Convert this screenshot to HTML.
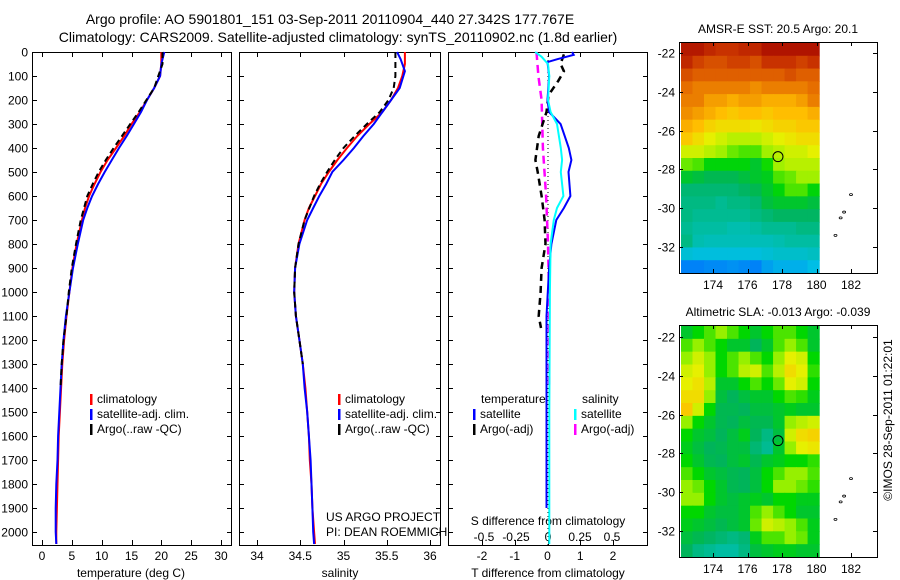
<!DOCTYPE html>
<html><head><meta charset="utf-8">
<style>
body{margin:0;background:#fff;}
svg{display:block;font-family:"Liberation Sans",sans-serif;}
text{font-size:12px;fill:#000;}
</style></head>
<body>
<svg id="fig" width="900" height="580" viewBox="0 0 900 580">
<text x="330" y="24" text-anchor="middle" style="font-size:14px">Argo profile: AO 5901801_151 03-Sep-2011 20110904_440 27.342S 177.767E</text>
<text x="338" y="42" text-anchor="middle" style="font-size:14px">Climatology: CARS2009. Satellite-adjusted climatology: synTS_20110902.nc (1.8d earlier)</text>
<text x="778" y="33" text-anchor="middle">AMSR-E SST: 20.5 Argo: 20.1</text>
<text x="778" y="316" text-anchor="middle">Altimetric SLA: -0.013 Argo: -0.039</text>
<text transform="translate(892,420) rotate(-90)" text-anchor="middle">©IMOS 28-Sep-2011 01:22:01</text>
<text x="326" y="521">US ARGO PROJECT</text>
<text x="326" y="536">PI: DEAN ROEMMICH</text>
</svg>
<script>
// ---------- data ----------
const depthTicks=[0,100,200,300,400,500,600,700,800,900,1000,1100,1200,1300,1400,1500,1600,1700,1800,1900,2000];
const tempTicks=[0,5,10,15,20,25,30];
const salTicks=[34,34.5,35,35.5,36];
const salTickLabels=["34","34.5","35","35.5","36"];
const tdiffTicks=[-2,-1,0,1,2];
const sdiffTicks=[-0.5,-0.25,0,0.25,0.5];
const sdiffTickLabels=["-0.5","-0.25","0","0.25","0.5"];
const latTicks=[-22,-24,-26,-28,-30,-32];
const lonTicks=[174,176,178,180,182];

const tClimDepth=[0,50,100,150,200,250,300,350,400,450,500,550,600,650,700,800,900,1000,1100,1200,1300,1400,1500,1600,1700,1800,1900,2000,2050];
const tClim=[20.0,20.0,19.8,18.8,17.6,16.4,15.0,13.8,12.4,11.0,9.8,8.8,7.9,7.2,6.7,5.8,5.1,4.6,4.1,3.7,3.4,3.2,3.0,2.8,2.7,2.6,2.5,2.4,2.4];
const tSat=[20.5,20.0,19.8,18.8,17.6,16.6,15.4,14.2,12.9,11.7,10.5,9.4,8.4,7.6,6.9,6.0,5.2,4.6,4.0,3.6,3.3,3.1,2.9,2.7,2.6,2.4,2.3,2.3,2.4];
const tArgoDepth=[0,50,100,150,200,250,300,350,400,450,500,550,600,700,800,900,1000,1100,1200,1300,1400];
const tArgo=[20.2,20.2,19.5,18.8,17.5,16.2,14.8,13.4,12.0,10.7,9.5,8.5,7.6,6.5,5.7,5.0,4.5,4.1,3.6,3.3,3.1];

const sClimDepth=[0,50,100,150,200,250,300,350,400,450,500,550,600,650,700,800,900,1000,1100,1200,1300,1400,1500,1600,1700,1800,1900,2000,2050];
const sClim=[35.71,35.71,35.68,35.63,35.55,35.45,35.30,35.16,35.04,34.93,34.83,34.74,34.67,34.60,34.55,34.48,34.44,34.43,34.45,34.49,34.53,34.56,34.58,34.60,34.61,34.63,34.64,34.66,34.67];
const sSatDepth=[0,30,80,150,200,250,300,350,400,450,500,550,600,650,700,800,900,1000,1100,1200,1300,1400,1500,1600,1700,1800,1900,2000,2050];
const sSat=[35.62,35.66,35.71,35.65,35.55,35.45,35.35,35.23,35.12,35.00,34.87,34.80,34.72,34.65,34.58,34.49,34.44,34.43,34.45,34.49,34.53,34.55,34.58,34.60,34.62,34.63,34.64,34.65,34.66];
const sArgoDepth=[0,100,150,200,250,300,350,400,450,500,550,600,700,800,900,1000,1100,1200,1300];
const sArgo=[35.60,35.60,35.58,35.52,35.42,35.27,35.13,35.00,34.90,34.81,34.73,34.66,34.55,34.48,34.44,34.43,34.45,34.49,34.53];

const dTSatDepth=[0,12,30,42,100,200,250,300,400,450,500,600,650,700,800,900,1100,1500,1900];
const dTSat=[0.75,0.8,0.3,0.0,0.05,0.0,0.05,0.4,0.65,0.73,0.64,0.7,0.5,0.27,0.12,0.05,-0.03,-0.03,-0.03];
const dSSatDepth=[0,20,50,100,200,250,300,400,450,500,600,650,700,800,1000,1500,2050];
const dSSat=[-0.1,-0.05,0.0,0.01,0.0,0.02,0.07,0.1,0.11,0.1,0.12,0.07,0.045,0.02,0.015,0.01,0.01];
const dSArgoDepth=[0,100,200,400,600,800,1000,1200,1400];
const dSArgo=[-0.09,-0.075,-0.05,-0.04,-0.015,0.0,0.008,0.008,0.008];
const dTArgoDepth=[10,50,80,120,180,250,350,450,500,600,700,800,900,1000,1100,1150];
const dTArgo=[0.5,0.4,0.5,0.33,0.03,-0.03,-0.27,-0.37,-0.3,-0.18,-0.09,-0.06,-0.18,-0.21,-0.27,-0.2];

const sstGrid=[
[0.95,0.95,0.92,0.9,0.9,0.92,0.92,0.96,0.96,0.96,0.96,0.96],
[0.92,0.88,0.86,0.86,0.88,0.88,0.86,0.9,0.9,0.9,0.88,0.9],
[0.86,0.84,0.84,0.84,0.84,0.84,0.84,0.84,0.84,0.86,0.84,0.84],
[0.82,0.8,0.8,0.8,0.8,0.8,0.78,0.8,0.8,0.8,0.8,0.82],
[0.8,0.8,0.76,0.76,0.74,0.76,0.76,0.74,0.74,0.74,0.76,0.8],
[0.78,0.76,0.74,0.72,0.7,0.72,0.72,0.7,0.72,0.72,0.72,0.74],
[0.74,0.72,0.68,0.66,0.66,0.66,0.64,0.66,0.68,0.68,0.7,0.7],
[0.7,0.66,0.62,0.6,0.58,0.58,0.58,0.6,0.62,0.64,0.66,0.66],
[0.6,0.6,0.58,0.56,0.52,0.5,0.5,0.56,0.58,0.6,0.6,0.62],
[0.52,0.5,0.44,0.44,0.44,0.44,0.4,0.46,0.56,0.58,0.58,0.58],
[0.4,0.38,0.36,0.36,0.36,0.38,0.4,0.42,0.5,0.52,0.56,0.56],
[0.32,0.32,0.32,0.32,0.32,0.34,0.36,0.4,0.44,0.5,0.5,0.44],
[0.3,0.3,0.3,0.28,0.3,0.3,0.32,0.38,0.4,0.4,0.4,0.38],
[0.3,0.28,0.28,0.28,0.28,0.28,0.3,0.32,0.34,0.34,0.34,0.34],
[0.28,0.26,0.26,0.26,0.24,0.24,0.26,0.28,0.28,0.28,0.3,0.3],
[0.3,0.24,0.22,0.22,0.22,0.22,0.22,0.22,0.24,0.26,0.26,0.26],
[0.16,0.14,0.14,0.14,0.14,0.14,0.14,0.16,0.18,0.18,0.18,0.2],
[0.04,0.04,0.05,0.05,0.06,0.05,0.04,0.08,0.1,0.1,0.1,0.12]];
const slaGrid=[
[0.4,0.45,0.5,0.55,0.5,0.45,0.4,0.45,0.5,0.5,0.45,0.4],
[0.5,0.55,0.5,0.45,0.4,0.4,0.35,0.4,0.5,0.55,0.5,0.4],
[0.55,0.6,0.55,0.45,0.5,0.55,0.5,0.45,0.55,0.62,0.6,0.45],
[0.6,0.62,0.55,0.45,0.5,0.58,0.6,0.5,0.58,0.66,0.62,0.48],
[0.62,0.65,0.58,0.4,0.4,0.45,0.5,0.45,0.52,0.62,0.6,0.45],
[0.66,0.66,0.55,0.38,0.35,0.38,0.4,0.4,0.45,0.5,0.48,0.42],
[0.7,0.6,0.45,0.36,0.36,0.35,0.38,0.38,0.4,0.42,0.4,0.4],
[0.55,0.45,0.4,0.36,0.35,0.38,0.36,0.36,0.4,0.55,0.58,0.6],
[0.45,0.4,0.38,0.35,0.38,0.42,0.35,0.3,0.38,0.6,0.66,0.68],
[0.42,0.38,0.35,0.36,0.38,0.38,0.32,0.28,0.4,0.55,0.62,0.64],
[0.45,0.4,0.36,0.35,0.38,0.4,0.36,0.4,0.42,0.45,0.45,0.48],
[0.5,0.45,0.4,0.38,0.36,0.35,0.38,0.45,0.5,0.55,0.55,0.5],
[0.55,0.52,0.45,0.4,0.36,0.35,0.38,0.45,0.55,0.55,0.52,0.48],
[0.55,0.55,0.45,0.4,0.38,0.4,0.42,0.4,0.45,0.45,0.42,0.42],
[0.45,0.45,0.4,0.38,0.38,0.4,0.5,0.55,0.5,0.45,0.4,0.4],
[0.42,0.4,0.38,0.36,0.38,0.4,0.52,0.6,0.58,0.55,0.5,0.42],
[0.38,0.36,0.34,0.32,0.3,0.32,0.42,0.5,0.5,0.55,0.52,0.42],
[0.35,0.3,0.28,0.26,0.26,0.3,0.38,0.4,0.42,0.42,0.4,0.4]];
const floatLon=177.767, floatLat=-27.342;
const islandLon=[182.0,181.6,181.4,181.1];
const islandLat=[-29.3,-30.2,-30.5,-31.4];

// ---------- helpers ----------
const NS="http://www.w3.org/2000/svg";
const svg=document.getElementById('fig');
function mk(tag,attrs,parent){const e=document.createElementNS(NS,tag);for(const k in attrs)e.setAttribute(k,attrs[k]);(parent||svg).appendChild(e);return e;}
function lin(d0,d1,r0,r1){return v=>r0+(v-d0)*(r1-r0)/(d1-d0);}
const yDepth=lin(0,2000,52,532);
const PTOP=52,PBOT=545;

function panelFrame(x0,x1,name){
  const r=mk('rect',{x:x0+0.5,y:PTOP+0.5,width:x1-x0,height:PBOT-PTOP,fill:'none',stroke:'#000'});
  
  
}
function xTicks(xs,vals,labels,x0,x1,ly,name,top){
  vals.forEach((v,i)=>{
    const x=Math.round(xs(v))+0.5;
    const t=mk('line',{x1:x,x2:x,y1:PBOT,y2:PBOT-5,stroke:'#000'});
    
    
    if(top){const t2=mk('line',{x1:x,x2:x,y1:PTOP,y2:PTOP+5,stroke:'#000'});
      
      }
    const l=mk('text',{x:xs(v),y:ly,'text-anchor':'middle'});l.textContent=labels[i];
    
    
  });
}
function yTicks(x0,x1,labels){
  depthTicks.forEach(d=>{
    const y=Math.round(yDepth(d))+0.5;
    const a=mk('line',{x1:x0,x2:x0+5,y1:y,y2:y,stroke:'#000'});
    
    
    const b=mk('line',{x1:x1-4,x2:x1+1,y1:y,y2:y,stroke:'#000'});
    
    
    if(labels){const t=mk('text',{x:x0-4,y:y+4,'text-anchor':'end'});t.textContent=d;
      
      }
  });
}
function line(xs,vals,depths,color,dash,name,w){
  const pts=vals.map((v,i)=>xs(v).toFixed(1)+','+yDepth(depths[i]).toFixed(1)).join(' ');
  const p=mk('polyline',{points:pts,fill:'none',stroke:color,'stroke-width':w||2,'stroke-dasharray':dash||'none'});
  
  
}
function legend(x,y,color,label,name){
  const r=mk('rect',{x:x,y:y-9,width:2.5,height:11,fill:color});
  
  
  const t=mk('text',{x:x+7,y:y});t.textContent=label;
  
  
}
function label(x,y,txt,name,anchor){const t=mk('text',{x:x,y:y,'text-anchor':anchor||'middle'});t.textContent=txt;
  
  }

// ---------- panel 1: temperature ----------
const xT=lin(0,30,42,221);
panelFrame(32,231,'temperature-panel');
yTicks(32,231,true);
xTicks(xT,tempTicks,tempTicks.map(String),32,231,560,'temperature-axis',true);
label(131,577,'temperature (deg C)','temperature-axis-title');
line(xT,tClim,tClimDepth,'#f00',null,'temperature-climatology-line');
line(xT,tSat,tClimDepth,'#00f',null,'temperature-satellite-line');
line(xT,tArgo,tArgoDepth,'#000','6,4','temperature-argo-line');
legend(90,403,'#f00','climatology','temperature-legend-climatology');
legend(90,418,'#00f','satellite-adj. clim.','temperature-legend-satellite');
legend(90,433,'#000','Argo(..raw -QC)','temperature-legend-argo');

// ---------- panel 2: salinity ----------
const xS=lin(34,36,257,430);
panelFrame(239,440,'salinity-panel');
yTicks(239,440,false);
xTicks(xS,salTicks,salTickLabels,239,440,560,'salinity-axis',true);
label(340,577,'salinity','salinity-axis-title');
line(xS,sClim,sClimDepth,'#f00',null,'salinity-climatology-line');
line(xS,sSat,sSatDepth,'#00f',null,'salinity-satellite-line');
line(xS,sArgo,sArgoDepth,'#000','6,4','salinity-argo-line');
legend(338,403,'#f00','climatology','salinity-legend-climatology');
legend(338,418,'#00f','satellite-adj. clim.','salinity-legend-satellite');
legend(338,433,'#000','Argo(..raw -QC)','salinity-legend-argo');

// ---------- panel 3: differences ----------
const xDT=lin(-2,2,482,613);
const xDS=lin(-0.5,0.5,484,612);
panelFrame(448,647,'difference-panel');
yTicks(448,647,false);
xTicks(xDT,tdiffTicks,tdiffTicks.map(String),448,647,560,'t-difference-axis',true);
sdiffTicks.forEach((v,i)=>label(xDS(v),541,sdiffTickLabels[i],'s-difference-tick-label'));
label(548,525,'S difference from climatology','s-difference-axis-title');
label(548,577,'T difference from climatology','t-difference-axis-title');
const zl=mk('line',{x1:xDT(0)+0.5,x2:xDT(0)+0.5,y1:PTOP,y2:PBOT,stroke:'#000','stroke-dasharray':'1,3'});


line(xDS,dSArgo,dSArgoDepth,'#f0f','8,5','salinity-argo-difference-line',2.5);
line(xDT,dTArgo,dTArgoDepth,'#000','7,5','temperature-argo-difference-line',2.5);
line(xDT,dTSat,dTSatDepth,'#00f',null,'temperature-satellite-difference-line');
line(xDS,dSSat,dSSatDepth,'#0ff',null,'salinity-satellite-difference-line');
label(481,403,'temperature','difference-legend-temperature-header','start');
label(582,403,'salinity','difference-legend-salinity-header','start');
legend(473,418,'#00f','satellite','difference-legend-t-satellite');
legend(473,433,'#000','Argo(-adj)','difference-legend-t-argo');
legend(574,418,'#0ff','satellite','difference-legend-s-satellite');
legend(574,433,'#f0f','Argo(-adj)','difference-legend-s-argo');

// ---------- maps ----------
const stops=[[0,[0,100,255]],[0.12,[0,190,230]],[0.25,[0,190,170]],[0.35,[0,180,90]],[0.45,[0,215,0]],[0.55,[150,240,0]],[0.62,[230,240,0]],[0.72,[255,190,0]],[0.82,[230,110,0]],[0.9,[200,50,0]],[1,[160,0,0]]];
function cmap(v){for(let i=1;i<stops.length;i++){if(v<=stops[i][0]){const a=stops[i-1],b=stops[i];const f=(v-a[0])/(b[0]-a[0]);
  return 'rgb('+a[1].map((c,k)=>Math.round(c+(b[1][k]-c)*f)).join(',')+')';}}return 'rgb(160,0,0)';}
function drawMap(grid,fy0,fy1,lat22y,lat32y,name){
  const mx0=679,mx1=877;
  const xLon=lin(174,182,713,851);
  const yLat=lin(-22,-32,lat22y,lat32y);
  const dx0=681,dx1=xLon(180.15),dy0=fy0+1,dy1=fy1;
  const rows=grid.length,cols=grid[0].length;
  const cw=(dx1-dx0)/cols,ch=(dy1-dy0)/rows;
  grid.forEach((row,r)=>row.forEach((v,c)=>{
    const cell=mk('rect',{x:(dx0+c*cw).toFixed(2),y:(dy0+r*ch).toFixed(2),width:(cw+0.6).toFixed(2),height:(ch+0.6).toFixed(2),fill:cmap(v)});
    
    
  }));
  const fr=mk('rect',{x:mx0+0.5,y:fy0+0.5,width:mx1-mx0,height:fy1-fy0,fill:'none',stroke:'#000'});
  
  
  lonTicks.forEach(lo=>{const x=Math.round(xLon(lo))+0.5;
    const a=mk('line',{x1:x,x2:x,y1:fy1,y2:fy1-4,stroke:'#000'});
    const b=mk('line',{x1:x,x2:x,y1:fy0,y2:fy0+4,stroke:'#000'});
    label(xLon(lo),fy1+16,String(lo),name+'-lon-label');});
  latTicks.forEach(la=>{const y=Math.round(yLat(la))+0.5;
    const a=mk('line',{x1:mx0,x2:mx0+4,y1:y,y2:y,stroke:'#000'});
    const b=mk('line',{x1:mx1-4,x2:mx1,y1:y,y2:y,stroke:'#000'});
    label(mx0-4,y+4,String(la),name+'-lat-label','end');});
  islandLon.forEach((lo,i)=>{const e=mk('ellipse',{cx:xLon(lo),cy:yLat(islandLat[i]),rx:1.5,ry:1,fill:'none',stroke:'#000','stroke-width':0.8});
    });
  const c=mk('circle',{cx:xLon(floatLon),cy:yLat(floatLat),r:5,fill:'none',stroke:'#000'});
  
  
}
drawMap(sstGrid,42,273,53,247,'sst-map');
drawMap(slaGrid,325,557,337,531,'sla-map');
</script>
</body></html>
